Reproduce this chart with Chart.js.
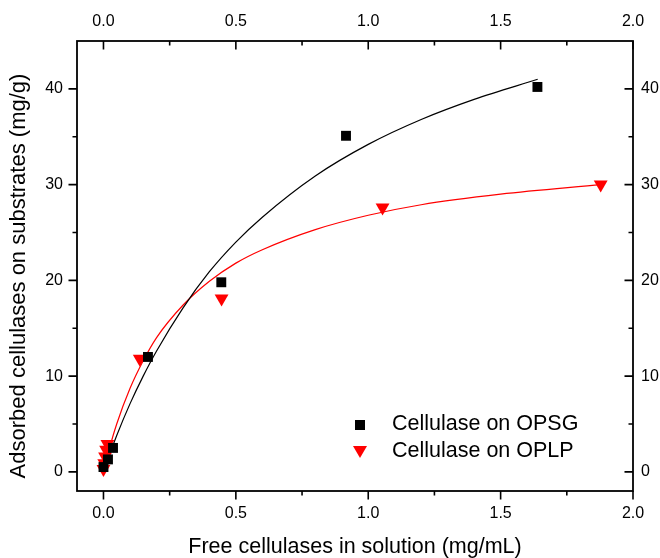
<!DOCTYPE html>
<html>
<head>
  <meta charset="utf-8">
  <title>Cellulase adsorption isotherms</title>
  <script src="https://cdn.jsdelivr.net/npm/chart.js@4.4.1/dist/chart.umd.min.js"></script>
  <style>
    html, body { margin: 0; padding: 0; background: #fff; }
    #wrap { width: 660px; height: 558px; }
  </style>
</head>
<body>
  <div id="wrap"><canvas id="chartCanvas" width="660" height="558"></canvas></div>

  <script>
    // measured points: free cellulase (mg/mL) vs adsorbed cellulase (mg/g)
    const opsgFree = [0.0, 0.017, 0.036, 0.168, 0.445, 0.916, 1.639];
    const opsgAds  = [0.5, 1.3, 2.5, 12.0, 19.8, 35.1, 40.2];
    const oplpFree = [0.0, 0.003, 0.006, 0.010, 0.015, 0.137, 0.446, 1.054, 1.878];
    const oplpAds  = [0.3, 0.9, 1.6, 2.3, 2.9, 11.8, 18.1, 27.6, 30.0];

    // fitted isotherm curves
    const opsgFitFree = [0, 0.02, 0.05, 0.1, 0.15, 0.2, 0.3, 0.4, 0.5, 0.6, 0.8, 1.0, 1.2, 1.4, 1.64];
    const opsgFitAds  = [0, 1.6, 3.8, 7.1, 10.0, 12.6, 17.1, 20.9, 24.0, 26.6, 30.9, 34.2, 36.8, 38.9, 41.0];
    const oplpFitFree = [0, 0.02, 0.05, 0.1, 0.15, 0.2, 0.3, 0.4, 0.5, 0.6, 0.8, 1.0, 1.2, 1.5, 1.88];
    const oplpFitAds  = [0, 2.2, 5.0, 8.7, 11.6, 14.0, 17.4, 19.9, 21.8, 23.2, 25.3, 26.8, 27.9, 29.0, 30.0];

    const seriesNames = ['Cellulase on OPSG', 'Cellulase on OPLP'];
    const yTitle = 'Adsorbed cellulases on substrates (mg/g)';

    const xTicks = [0.0, 0.5, 1.0, 1.5, 2.0];
    const xMinor = [0.25, 0.75, 1.25, 1.75];
    const yTicks = [0, 10, 20, 30, 40];
    const yMinor = [5, 15, 25, 35];

    const toPoints = (xs, ys) => xs.map((x, i) => ({ x: x, y: ys[i] }));

    const FONT = '"Liberation Sans", Arial, sans-serif';
    Chart.defaults.font.family = FONT;
    Chart.defaults.color = '#000';

    // frame on all four sides, ticks out on bottom/left and in on top/right
    const frameTicks = {
      id: 'frameTicks',
      afterDraw(chart) {
        const ctx = chart.ctx;
        const a = chart.chartArea;
        const sx = chart.scales.x;
        const sy = chart.scales.y;
        ctx.save();
        ctx.strokeStyle = '#000';
        ctx.lineWidth = 1.8;
        ctx.strokeRect(a.left, a.top, a.right - a.left, a.bottom - a.top);

        ctx.lineWidth = 1.6;
        ctx.beginPath();
        const xMarks = xTicks.map(v => [v, 8.5]).concat(xMinor.map(v => [v, 4.5]));
        xMarks.forEach(([v, len]) => {
          const px = sx.getPixelForValue(v);
          ctx.moveTo(px, a.bottom); ctx.lineTo(px, a.bottom + len);
          ctx.moveTo(px, a.top); ctx.lineTo(px, a.top + len);
        });
        const yMarks = yTicks.map(v => [v, 8.5]).concat(yMinor.map(v => [v, 4.5]));
        yMarks.forEach(([v, len]) => {
          const py = sy.getPixelForValue(v);
          ctx.moveTo(a.left, py); ctx.lineTo(a.left - len, py);
          ctx.moveTo(a.right, py); ctx.lineTo(a.right - len, py);
        });
        ctx.stroke();

        // left axis title
        ctx.save();
        ctx.translate(19, 276);
        ctx.rotate(-Math.PI / 2);
        ctx.fillStyle = '#000';
        ctx.font = '22px ' + FONT;
        ctx.textAlign = 'center';
        ctx.textBaseline = 'middle';
        ctx.fillText(yTitle, 0, 0);
        ctx.restore();

        // legend inside the plot
        ctx.fillStyle = '#000';
        ctx.fillRect(355, 420, 10, 10);
        ctx.fillStyle = '#ff0000';
        ctx.beginPath();
        ctx.moveTo(353, 446);
        ctx.lineTo(367, 446);
        ctx.lineTo(360, 458);
        ctx.closePath();
        ctx.fill();

        ctx.fillStyle = '#000';
        ctx.font = '21.5px ' + FONT;
        ctx.textBaseline = 'middle';
        ctx.textAlign = 'left';
        ctx.fillText(seriesNames[0], 392, 424);
        ctx.fillText(seriesNames[1], 392, 451);
        ctx.restore();
      }
    };

    const xAxisBase = {
      type: 'linear',
      min: -0.1,
      max: 2.0,
      afterBuildTicks: s => { s.ticks = xTicks.map(v => ({ value: v })); },
      grid: { display: false, drawTicks: false },
      border: { display: false },
      ticks: { color: '#000', font: { size: 16 }, maxRotation: 0, autoSkip: false,
               callback: v => Number(v).toFixed(1) }
    };
    const yAxisBase = {
      type: 'linear',
      min: -2,
      max: 45,
      afterBuildTicks: s => { s.ticks = yTicks.map(v => ({ value: v })); },
      grid: { display: false, drawTicks: false },
      border: { display: false },
      ticks: { color: '#000', font: { size: 16 }, autoSkip: false,
               callback: v => String(v) }
    };

    const ctx = document.getElementById('chartCanvas').getContext('2d');
    new Chart(ctx, {
      type: 'scatter',
      data: {
        datasets: [
          {
            label: seriesNames[0],
            data: toPoints(opsgFree, opsgAds),
            pointStyle: 'rect',
            pointRadius: 7,
            pointBackgroundColor: '#000',
            pointBorderWidth: 0,
            order: 0
          },
          {
            label: seriesNames[1],
            data: toPoints(oplpFree, oplpAds),
            pointStyle: 'triangle',
            pointRotation: 180,
            pointRadius: 8,
            pointBackgroundColor: '#ff0000',
            pointBorderWidth: 0,
            order: 0
          },
          {
            label: 'OPSG fit',
            data: toPoints(opsgFitFree, opsgFitAds),
            showLine: true,
            borderColor: '#000',
            borderWidth: 1.2,
            pointRadius: 0,
            cubicInterpolationMode: 'monotone',
            order: 1
          },
          {
            label: 'OPLP fit',
            data: toPoints(oplpFitFree, oplpFitAds),
            showLine: true,
            borderColor: '#ff0000',
            borderWidth: 1.2,
            pointRadius: 0,
            cubicInterpolationMode: 'monotone',
            order: 1
          }
        ]
      },
      options: {
        responsive: false,
        animation: false,
        layout: { padding: 0 },
        plugins: {
          legend: { display: false },
          tooltip: { enabled: false }
        },
        scales: {
          x: Object.assign({}, xAxisBase, {
            position: 'bottom',
            afterFit: s => { s.height = 67; },
            ticks: Object.assign({}, xAxisBase.ticks, { padding: 13 }),
            title: {
              display: true,
              text: 'Free cellulases in solution (mg/mL)',
              color: '#000',
              font: { size: 21.5, lineHeight: 1 },
              padding: { top: 0, bottom: 0 }
            }
          }),
          x2: Object.assign({}, xAxisBase, {
            position: 'top',
            afterFit: s => { s.height = 41; },
            ticks: Object.assign({}, xAxisBase.ticks, { padding: 10 })
          }),
          y: Object.assign({}, yAxisBase, {
            position: 'left',
            afterFit: s => { s.width = 77; },
            ticks: Object.assign({}, yAxisBase.ticks, { padding: 14 })
          }),
          y2: Object.assign({}, yAxisBase, {
            position: 'right',
            afterFit: s => { s.width = 27; },
            ticks: Object.assign({}, yAxisBase.ticks, { padding: 8 })
          })
        }
      },
      plugins: [frameTicks]
    });
  </script>
</body>
</html>
